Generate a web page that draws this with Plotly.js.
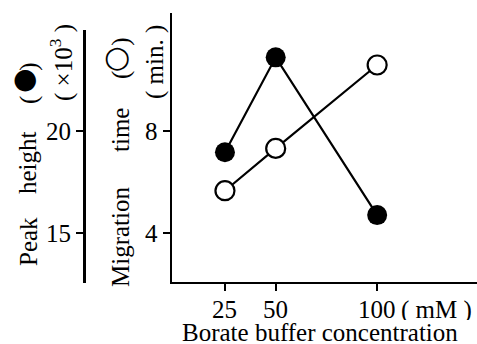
<!DOCTYPE html>
<html>
<head>
<meta charset="utf-8">
<script src="https://cdn.plot.ly/plotly-3.0.1.min.js"></script>
<style>html,body{margin:0;padding:0;background:#fff;}</style>
</head>
<body>
<div id="chart" style="width:477px;height:344px;"></div>
<script>
const concentration = [25, 50, 100];
const peakHeight = [18.96, 23.61, 15.88];
const migrationTime = [5.66, 7.32, 10.59];
const xTickVals = [25, 50, 100];
const xTickText = ['25', '50', '100'];
const peakTickVals = [15, 20];
const migTickVals = [4, 8];

const W = 477, H = 344;
const px = v => v / W;
const py = v => 1 - v / H;
const FONT = 'Liberation Serif, Times New Roman, serif';
const FS = 25;

const traces = [
  {
    x: concentration, y: migrationTime, xaxis: 'x', yaxis: 'y',
    mode: 'lines+markers', cliponaxis: false,
    line: {color: '#000', width: 2.2},
    marker: {size: 19, color: '#fff', line: {color: '#000', width: 2.2}}
  },
  {
    x: concentration, y: peakHeight, xaxis: 'x2', yaxis: 'y2',
    mode: 'lines+markers', cliponaxis: false,
    line: {color: '#000', width: 2.2},
    marker: {size: 20, color: '#000'}
  }
];

const axisCommon = {
  showgrid: false, zeroline: false, showline: true, linecolor: '#000',
  ticks: 'outside', tickcolor: '#000', tickwidth: 2,
  tickfont: {family: FONT, size: FS, color: '#000'}, automargin: false, fixedrange: true
};

const base = {xref: 'paper', yref: 'paper', showarrow: false, xanchor: 'center', yanchor: 'middle',
  borderpad: 0, font: {family: FONT, size: FS, color: '#000'}};
const rot = a => Object.assign({}, base, {textangle: -90}, a);
const flat = a => Object.assign({}, base, {textangle: 0}, a);
const glyph = (s, x, y, size) => Object.assign({}, base, {text: s, x: px(x), y: py(y),
  font: {family: 'DejaVu Sans', size: size, color: '#000'}});
const gap = '\u00A0\u00A0\u00A0\u00A0';

const annotations = [
  rot({text: 'Peak', x: px(28), y: py(242)}),
  rot({text: 'height', x: px(28), y: py(163)}),
  rot({text: '(' + gap + ')', x: px(29), y: py(83)}),
  glyph('\u25CF', 25, 79, 28),
  rot({text: '( \u00D710<sup>3</sup> )', x: px(62), y: py(62)}),
  rot({text: 'Migration', x: px(120), y: py(237)}),
  rot({text: 'time', x: px(120), y: py(130)}),
  rot({text: '(' + gap + ')', x: px(121), y: py(58)}),
  glyph('\u25CB', 117, 56, 30),
  rot({text: '( min. )', x: px(155), y: py(62)}),
  flat({text: '( mM )', x: px(436), y: py(310), height: 20}),
  flat({text: 'Borate buffer concentration', x: px(320), y: 0, yanchor: 'bottom', height: 22})
].concat(xTickVals.map((v, i) => Object.assign({}, base, {
  xref: 'x', text: xTickText[i], x: v, y: py(309), height: 18
})));

const layout = {
  width: W, height: H,
  margin: {l: 0, r: 0, t: 0, b: 0},
  paper_bgcolor: '#fff', plot_bgcolor: 'rgba(0,0,0,0)',
  showlegend: false,
  xaxis: Object.assign({}, axisCommon, {
    domain: [px(172), 1], range: [-1.1, 149.2], tickvals: xTickVals,
    showticklabels: false, ticklen: 7, linewidth: 2, anchor: 'y'
  }),
  yaxis: Object.assign({}, axisCommon, {
    domain: [py(282), py(13)], range: [2.08, 12.63], tickvals: migTickVals,
    ticklen: 7, linewidth: 2.5, anchor: 'x'
  }),
  xaxis2: {domain: [px(172), 1], range: [-1.1, 149.2], visible: false, anchor: 'y2', fixedrange: true},
  yaxis2: Object.assign({}, axisCommon, {
    domain: [Math.max(0, py(283)), py(30)], range: [12.55, 24.95], tickvals: peakTickVals,
    ticklen: 7, linewidth: 3, anchor: 'free', position: px(84)
  }),
  annotations: annotations
};

Plotly.newPlot('chart', traces, layout, {displayModeBar: false, staticPlot: true});
</script>
</body>
</html>
